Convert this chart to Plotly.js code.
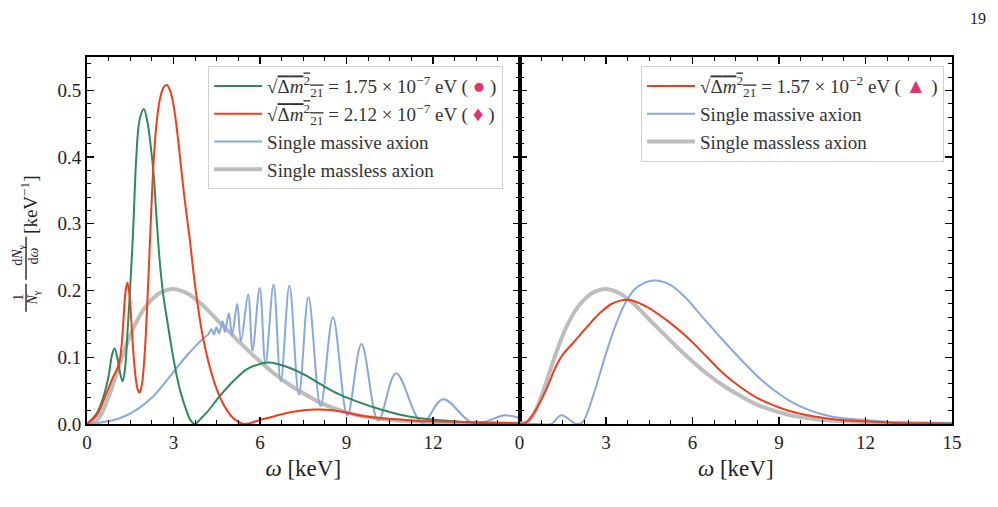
<!DOCTYPE html>
<html>
<head>
<meta charset="utf-8">
<script src="https://cdn.plot.ly/plotly-3.0.1.min.js"></script>
<style>
  html, body { margin: 0; padding: 0; background: #fff; }
  #chart { width: 998px; height: 507px; }
</style>
</head>
<body>
<div id="chart"></div>
<script>
// Photon spectra 1/N dN/dω [keV^-1] versus ω [keV]

// Single massless axion (shown in both panels)
const masslessX = [0, 0.3, 0.5, 0.7, 0.83, 1.0, 1.2, 1.41, 1.6, 1.8, 2.0, 2.3, 2.6, 2.97, 3.47, 3.94, 4.63, 5.21, 5.79, 6.51, 7.09, 7.67, 8.24, 8.82, 9.4, 9.98, 10.56, 11.14, 12, 12.87, 14, 15];
const masslessY = [0, 0.004, 0.015, 0.035, 0.05, 0.072, 0.098, 0.123, 0.143, 0.16, 0.174, 0.189, 0.198, 0.2025, 0.196, 0.181, 0.151, 0.126, 0.102, 0.075, 0.057, 0.042, 0.029, 0.020, 0.013, 0.009, 0.006, 0.0045, 0.003, 0.0015, 0.0007, 0.0003];

// Left panel: single massive axion
const massiveLX = [0, 0.58, 1.16, 1.74, 2.31, 3.0, 3.47, 4.05, 4.2, 4.32, 4.40, 4.49, 4.58, 4.70, 4.78, 4.92, 5.03, 5.21, 5.34, 5.59, 5.74, 5.99, 6.19, 6.47, 6.72, 7.02, 7.35, 7.68, 8.10, 8.53, 9.03, 9.52, 10.1, 10.72, 11.62, 12.35, 13.4, 14.5, 15];
const massiveLY = [0, 0.003, 0.009, 0.022, 0.042, 0.078, 0.103, 0.129, 0.134, 0.142, 0.134, 0.145, 0.136, 0.154, 0.138, 0.166, 0.133, 0.180, 0.124, 0.194, 0.110, 0.204, 0.090, 0.209, 0.064, 0.207, 0.044, 0.190, 0.027, 0.160, 0.013, 0.120, 0.005, 0.076, 0.002, 0.037, 0.001, 0.013, 0.009];

// Left panel: sqrt(Δm²21) = 1.75e-7 eV
const green175X = [0, 0.35, 0.58, 0.75, 0.87, 0.96, 1.06, 1.16, 1.24, 1.33, 1.40, 1.48, 1.6, 1.71, 1.82, 1.97, 2.1, 2.2, 2.32, 2.41, 2.52, 2.64, 2.8, 2.95, 3.1, 3.25, 3.45, 3.6, 3.74, 3.99, 4.15, 4.61, 5.07, 5.54, 6.0, 6.3, 6.6, 7.04, 7.62, 8.2, 8.77, 9.47, 10.16, 10.86, 11.55, 12.48, 13.63, 15];
const green175Y = [0, 0.017, 0.042, 0.072, 0.104, 0.113, 0.097, 0.074, 0.064, 0.088, 0.135, 0.19, 0.29, 0.40, 0.455, 0.472, 0.452, 0.42, 0.37, 0.31, 0.245, 0.195, 0.15, 0.11, 0.075, 0.047, 0.02, 0.005, 0, 0.01, 0.017, 0.042, 0.064, 0.082, 0.09, 0.092, 0.09, 0.084, 0.072, 0.057, 0.044, 0.032, 0.022, 0.014, 0.0087, 0.005, 0.002, 0.0005];

// Left panel: sqrt(Δm²21) = 2.12e-7 eV
const red212X = [0, 0.35, 0.64, 0.87, 1.04, 1.12, 1.2, 1.27, 1.33, 1.40, 1.47, 1.55, 1.65, 1.75, 1.82, 1.9, 2.0, 2.1, 2.2, 2.3, 2.41, 2.52, 2.65, 2.77, 2.9, 3.0, 3.1, 3.22, 3.35, 3.45, 3.57, 3.68, 3.8, 3.91, 4.03, 4.26, 4.5, 4.75, 5.0, 5.25, 5.48, 6.0, 6.69, 7.27, 7.9, 8.43, 9.0, 9.58, 10.16, 10.74, 11.32, 11.9, 13.05, 15];
const red212Y = [0, 0.014, 0.042, 0.067, 0.082, 0.092, 0.118, 0.16, 0.196, 0.212, 0.195, 0.145, 0.085, 0.053, 0.047, 0.058, 0.105, 0.19, 0.29, 0.385, 0.45, 0.485, 0.504, 0.508, 0.497, 0.478, 0.448, 0.402, 0.35, 0.315, 0.275, 0.232, 0.19, 0.158, 0.128, 0.085, 0.052, 0.028, 0.012, 0.003, 0, 0.006, 0.014, 0.019, 0.0217, 0.021, 0.017, 0.012, 0.009, 0.007, 0.005, 0.004, 0.003, 0.001];

// Right panel: sqrt(Δm²21) = 1.57e-2 eV
const red157X = [0, 0.23, 0.58, 0.93, 1.27, 1.5, 1.85, 2.31, 2.78, 3.24, 3.80, 4.40, 5.09, 5.79, 6.51, 7.09, 7.67, 8.24, 8.82, 9.4, 9.98, 10.56, 11.14, 12, 12.87, 14, 15];
const red157Y = [0, 0.002, 0.022, 0.052, 0.087, 0.104, 0.121, 0.144, 0.166, 0.181, 0.186, 0.176, 0.156, 0.131, 0.100, 0.075, 0.055, 0.039, 0.028, 0.019, 0.013, 0.009, 0.006, 0.004, 0.002, 0.001, 0.0005];

// Right panel: single massive axion
const massiveRX = [0, 0.6, 1.1, 1.45, 1.97, 2.17, 2.31, 2.66, 3.01, 3.36, 3.70, 4.05, 4.65, 5.21, 5.79, 6.25, 6.8, 7.09, 7.67, 8.24, 8.82, 9.4, 9.98, 10.56, 11.14, 12, 12.87, 14, 15];
const massiveRY = [0, 0, 0, 0.013, 0, 0.002, 0.012, 0.057, 0.107, 0.151, 0.184, 0.204, 0.215, 0.209, 0.188, 0.165, 0.138, 0.124, 0.097, 0.072, 0.051, 0.034, 0.022, 0.014, 0.009, 0.006, 0.003, 0.0017, 0.001];

const xTicks = [0, 3, 6, 9, 12, 15];
const xTickTextLeft = ['0', '3', '6', '9', '12', ''];
const xTickTextRight = ['0', '3', '6', '9', '12', '15'];

const GREEN = '#2e8b57';
const RED = '#f23c1e';
const BLUE = '#88a9dd';
const GRAY = '#bdbdbd';
const PINK = '#e0356b';
const SERIF = '"Liberation Serif", "DejaVu Serif", serif';
const INK = '#222';

const sqrtDm = '√<span style="text-decoration:overline">Δ<i>m</i><sup>2</sup><sub>21</sub></span>';
function badge(sym) {
  return '( <span style="color:' + PINK + ';font-size:21px">' + sym + '</span> )';
}

function line(x, y, color, width, name, xa, ya, legend, rank) {
  return {
    x: x, y: y, type: 'scatter', mode: 'lines', name: name,
    line: { color: color, width: width, shape: 'spline', smoothing: 1 },
    xaxis: xa, yaxis: ya, legend: legend, legendrank: rank,
    hoverinfo: 'skip'
  };
}

const traces = [
  line(masslessX, masslessY, GRAY, 4, 'Single massless axion', 'x', 'y', 'legend', 4),
  line(massiveLX, massiveLY, BLUE, 2, 'Single massive axion', 'x', 'y', 'legend', 3),
  line(green175X, green175Y, GREEN, 2, sqrtDm + ' = 1.75 × 10<sup>−7</sup> eV ' + badge('●'),
       'x', 'y', 'legend', 1),
  line(red212X, red212Y, RED, 2, sqrtDm + ' = 2.12 × 10<sup>−7</sup> eV ' + badge('♦'),
       'x', 'y', 'legend', 2),

  line(masslessX, masslessY, GRAY, 4, 'Single massless axion', 'x2', 'y2', 'legend2', 3),
  line(massiveRX, massiveRY, BLUE, 2, 'Single massive axion', 'x2', 'y2', 'legend2', 2),
  line(red157X, red157Y, RED, 2, sqrtDm + ' = 1.57 × 10<sup>−2</sup> eV ' + badge('▲'),
       'x2', 'y2', 'legend2', 1)
];

const axisCommon = {
  showline: true, linecolor: '#000', linewidth: 2, mirror: 'allticks',
  ticks: 'inside', ticklen: 7, tickwidth: 1.3, tickcolor: '#000',
  showgrid: false, zeroline: false, fixedrange: true,
  tickfont: { family: SERIF, size: 19, color: INK }
};

const xCommon = Object.assign({}, axisCommon, {
  range: [0, 15], tickmode: 'array', tickvals: xTicks,
  minor: { dtick: 0.75, ticks: 'inside', ticklen: 4, tickwidth: 1, tickcolor: '#000', showgrid: false },
  title: { text: '<i>ω</i> [keV]', font: { family: SERIF, size: 23, color: INK }, standoff: 8 }
});

const yCommon = Object.assign({}, axisCommon, {
  range: [0, 0.55], dtick: 0.1, tickformat: '.1f',
  minor: { dtick: 0.02, ticks: 'inside', ticklen: 4, tickwidth: 1, tickcolor: '#000', showgrid: false }
});

const legendCommon = {
  bgcolor: 'rgba(255,255,255,0.85)', bordercolor: '#d0d0d0', borderwidth: 1,
  font: { family: SERIF, size: 19, color: '#333' },
  xanchor: 'left', yanchor: 'top', tracegroupgap: 0, itemwidth: 48,
  traceorder: 'normal'
};

function label(text, x, y, size) {
  return { text: text, xref: 'paper', yref: 'paper', x: x, y: y, textangle: -90,
           xanchor: 'center', yanchor: 'middle', showarrow: false,
           font: { family: SERIF, size: size, color: INK } };
}

const layout = {
  width: 998, height: 507,
  margin: { l: 87, r: 46, t: 57, b: 82.5 },
  paper_bgcolor: '#fff', plot_bgcolor: '#fff',
  xaxis: Object.assign({}, xCommon, { domain: [0, 0.5], anchor: 'y', ticktext: xTickTextLeft }),
  xaxis2: Object.assign({}, xCommon, { domain: [0.5, 1], anchor: 'y2', ticktext: xTickTextRight }),
  yaxis: Object.assign({}, yCommon, { anchor: 'x' }),
  yaxis2: Object.assign({}, yCommon, { anchor: 'x2', matches: 'y', showticklabels: false }),
  legend: Object.assign({}, legendCommon, { x: 0.14, y: 0.975 }),
  legend2: Object.assign({}, legendCommon, { x: 0.6405, y: 0.975 }),
  showlegend: true,
  annotations: [
    { text: '19', xref: 'paper', yref: 'paper', x: 1.030, y: 1.106, xanchor: 'center', yanchor: 'middle',
      showarrow: false, font: { family: SERIF, size: 16, color: INK } },
    // y-axis label: (1 / N_γ) (dN_γ / dω) [keV^-1], written vertically
    label('1', -0.0785, 0.344, 14),
    label('<i>N</i><sub>γ</sub>', -0.0615, 0.344, 14),
    label('d<i>N</i><sub>γ</sub>', -0.0785, 0.4585, 14),
    label('d<i>ω</i>', -0.0615, 0.4585, 14),
    label('[keV<sup>−1</sup>]', -0.067, 0.597, 19)
  ],
  shapes: [
    { type: 'line', xref: 'paper', yref: 'paper', x0: -0.0705, x1: -0.0705, y0: 0.306, y1: 0.382,
      line: { color: '#000', width: 1.2 } },
    { type: 'line', xref: 'paper', yref: 'paper', x0: -0.0705, x1: -0.0705, y0: 0.393, y1: 0.51,
      line: { color: '#000', width: 1.2 } }
  ]
};

Plotly.newPlot('chart', traces, layout, { displayModeBar: false, staticPlot: true });
</script>
</body>
</html>
